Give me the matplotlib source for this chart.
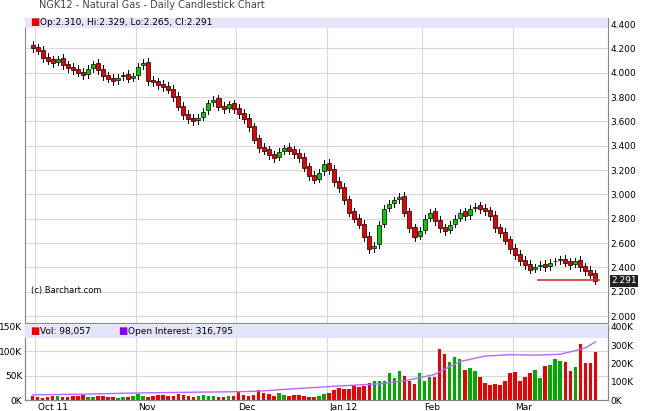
import numpy as np
import matplotlib.pyplot as plt
from matplotlib.patches import Rectangle

closes = [4.20,4.18,4.12,4.10,4.08,4.11,4.06,4.04,4.02,4.00,3.98,4.03,4.07,4.02,3.97,3.95,3.93,3.96,3.98,3.95,3.97,
          4.05,4.08,3.93,3.92,3.90,3.88,3.86,3.80,3.72,3.65,3.62,3.60,3.63,3.68,3.75,3.78,3.72,3.70,3.74,3.70,
          3.66,3.62,3.55,3.45,3.38,3.36,3.32,3.30,3.35,3.38,3.36,3.33,3.30,3.22,3.15,3.12,3.18,3.25,
          3.20,3.10,3.05,2.95,2.85,2.80,2.75,2.65,2.55,2.58,2.75,2.88,2.92,2.95,2.98,2.85,2.72,2.65,2.70,
          2.80,2.85,2.78,2.72,2.70,2.75,2.80,2.85,2.82,2.88,2.90,2.88,2.86,2.82,2.72,2.68,2.62,2.55,
          2.50,2.45,2.42,2.38,2.40,2.42,2.40,2.44,2.45,2.46,2.44,2.42,2.45,2.40,2.37,2.34,2.291]
volumes = [8,6,5,7,9,8,7,6,9,8,10,7,6,9,8,7,6,5,7,6,8,
           12,9,7,8,10,11,9,8,12,10,9,7,8,10,9,8,7,6,9,8,
           16,10,9,11,20,15,12,9,14,10,8,11,10,9,7,6,9,12,
           15,20,25,22,23,30,27,29,35,40,38,38,55,46,60,50,40,32,55,
           40,48,47,105,95,78,88,85,62,65,60,48,35,30,32,30,40,
           55,58,38,48,55,62,45,70,72,85,80,78,60,67,115,75,77,98]
oi_idx = [0, 10, 20, 30, 40, 45, 50, 60, 70, 75, 80, 85, 90, 95, 100, 105, 108, 110, 112]
oi_vals = [28, 32, 38, 42, 45, 48, 58, 75, 90, 110, 140, 210, 240, 248, 245, 250, 270, 285, 318]
tick_idx = [1, 21, 41, 59, 78, 96]
tick_labels = ['Oct 11', 'Nov', 'Dec', 'Jan 12', 'Feb', 'Mar']

n = len(closes)
x = np.arange(n)
opens = [closes[0] + 0.03] + [c + 0.01 for c in closes[:-1]]

fig = plt.figure(figsize=(6.45, 4.11), dpi=100)
ax = fig.add_axes([25/645, 1 - 323/411, 583/645, 305/411])
axv = fig.add_axes([25/645, 1 - 400/411, 583/645, 75/411])

grid_c = '#d8d8d8'
for a in (ax, axv):
    a.set_xlim(-1.5, n + 1.5)
    for t in tick_idx:
        a.axvline(t - 0.5, color=grid_c, lw=0.8, zorder=0)
    a.set_xticks(tick_idx)
    a.tick_params(labelsize=6.5, length=0, pad=2)

# price candles
for i in range(n):
    o, c = opens[i], closes[i]
    hi, lo = max(o, c) + 0.03, min(o, c) - 0.03
    col = '#00cc00' if c >= o else '#ee0000'
    ax.plot([i, i], [lo, hi], color='black', lw=0.7, zorder=2)
    ax.add_patch(Rectangle((i - 0.4, min(o, c)), 0.8, max(abs(c - o), 0.006),
                           facecolor=col, edgecolor='black', lw=0.5, zorder=3))
ax.set_ylim(1.943, 4.45)
ax.set_yticks(np.arange(2.0, 4.41, 0.2))
ax.set_yticklabels([f'{v:.3f}' for v in np.arange(2.0, 4.41, 0.2)])
ax.yaxis.tick_right()
ax.grid(axis='y', color=grid_c, lw=0.8)
ax.set_axisbelow(True)
ax.set_xticklabels([])
ax.axhline(2.30, xmin=0.88, xmax=0.985, color='#cc3333', lw=1.2, zorder=4)
ax.add_patch(Rectangle((0, 4.37), 1, 0.09, transform=ax.get_yaxis_transform(),
                       facecolor='#e4e4fa', edgecolor='none', zorder=5))
ax.text(0.008, 4.415, '■', color='#ee0000', fontsize=7, va='center', zorder=6, transform=ax.get_yaxis_transform())
ax.text(0.025, 4.415, 'Op:2.310, Hi:2.329, Lo:2.265, Cl:2.291', fontsize=6.5, va='center', zorder=6,
        transform=ax.get_yaxis_transform())
ax.text(0.01, 2.19, '(c) Barchart.com', fontsize=6, transform=ax.get_yaxis_transform())
ax.text(1.005, closes[-1], '2.291', transform=ax.get_yaxis_transform(), fontsize=6.5,
        color='white', va='center', bbox=dict(facecolor='#222222', pad=1, edgecolor='none'))
fig.text(0.06, 0.988, 'NGK12 - Natural Gas - Daily Candlestick Chart', fontsize=7, va='center', color='#444444')

# volume
vcol = ['#00aa00' if closes[i] >= opens[i] else '#ee0000' for i in range(n)]
axv.bar(x, [v * 1000 for v in volumes], width=0.7, color=vcol, zorder=2)
axv.set_ylim(0, 154000)
axv.set_yticks([0, 50000, 100000, 150000])
axv.set_yticklabels(['0K', '50K', '100K', '150K'])
axv.set_xticklabels(tick_labels)
for lab in axv.get_xticklabels():
    lab.set_horizontalalignment('left')
axv.grid(axis='y', color=grid_c, lw=0.8)
axv.set_axisbelow(True)
axo = axv.twinx()
axo.plot(oi_idx, [v * 1000 for v in oi_vals], color='#bb66ff', lw=1, zorder=3)
axo.set_ylim(0, 410000)
axo.set_yticks([0, 100000, 200000, 300000, 400000])
axo.set_yticklabels(['0K', '100K', '200K', '300K', '400K'])
axo.tick_params(labelsize=6.5, length=0, pad=2)
axo.add_patch(Rectangle((0, 0.83), 1, 0.17, transform=axo.transAxes,
                        facecolor='#e4e4fa', edgecolor='none', zorder=5))
axo.text(0.008, 0.915, '■', color='#ee0000', fontsize=7, va='center', transform=axo.transAxes, zorder=6)
axo.text(0.025, 0.915, 'Vol: 98,057', fontsize=6.5, va='center', transform=axo.transAxes, zorder=6)
axo.text(0.16, 0.915, '■', color='#8800ee', fontsize=7, va='center', transform=axo.transAxes, zorder=6)
axo.text(0.177, 0.915, 'Open Interest: 316,795', fontsize=6.5, va='center', transform=axo.transAxes, zorder=6)
for a in (ax, axv, axo):
    for s in a.spines.values():
        s.set_color('#888888')

fig.savefig('out.png', dpi=100)
